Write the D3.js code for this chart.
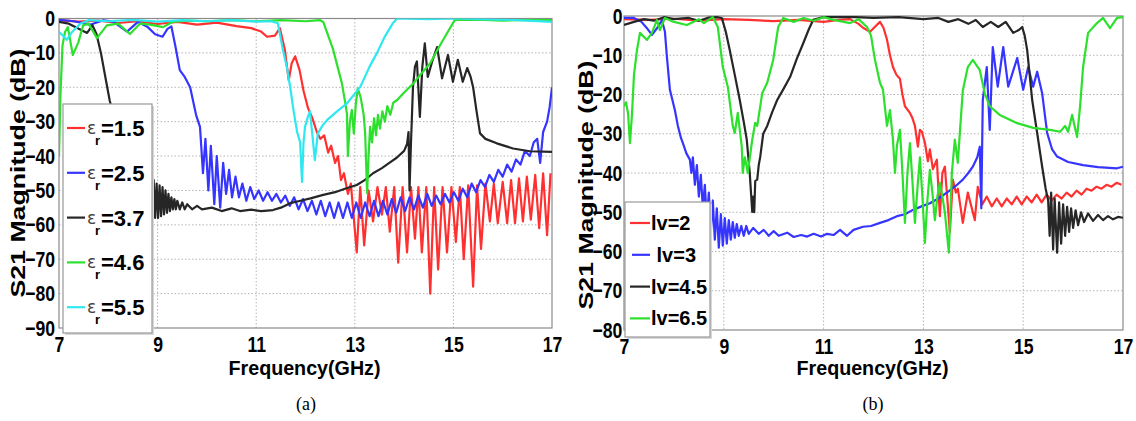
<!DOCTYPE html>
<html>
<head>
<meta charset="utf-8">
<script src="https://cdn.jsdelivr.net/npm/d3@7"></script>
<style>
body { margin: 0; background: #fff; }
svg { display: block; font-family: "Liberation Sans", Arial, sans-serif; }
</style>
</head>
<body>
<svg id="chart" width="1136" height="421"></svg>
<script>
// ---- data (frequency in GHz, S21 in dB) ----
const freqTicks = [7, 9, 11, 13, 15, 17];
const dbTicksA = [0, -10, -20, -30, -40, -50, -60, -70, -80, -90];
const dbTicksB = [0, -10, -20, -30, -40, -50, -60, -70, -80];

const erLabels = ["1.5", "2.5", "3.7", "4.6", "5.5"];
const lvLabels = ["lv=2", " lv=3", "lv=4.5", "lv=6.5"];

// (a) permittivity sweep
const er15 = [[7.0,-0.5],[7.4,-0.9],[7.8,-0.6],[8.2,-1.3],[8.6,-0.8],[9.0,-1.6],[9.4,-1.0],[9.8,-1.8],[10.2,-1.2],[10.6,-2.2],[10.9,-2.8],[11.1,-3.8],[11.22,-5.3],[11.38,-5.0],[11.48,-2.8],[11.58,-9],[11.66,-18],[11.72,-13],[11.79,-11],[11.88,-15],[11.96,-21],[12.05,-26],[12.14,-29],[12.23,-33],[12.3,-35],[12.38,-34],[12.46,-39],[12.52,-37],[12.6,-42],[12.66,-40],[12.72,-47],[12.78,-45],[12.86,-51],[12.92,-48],
  [13.04,-68],[13.11,-49],[13.19,-66],[13.28,-50],[13.37,-59],[13.46,-49],[13.55,-57],[13.63,-49],[13.71,-62],[13.8,-49],[13.88,-71],[13.97,-49],[14.06,-68],[14.14,-49],[14.22,-64],[14.29,-49],[14.36,-68],[14.45,-49],[14.53,-80],[14.61,-49],[14.69,-73],[14.78,-49],[14.87,-68],[14.96,-49],[15.05,-65],[15.13,-49],[15.21,-70],[15.3,-48.5],[15.4,-78],[15.48,-48.5],[15.56,-67],[15.65,-48],[15.74,-59],[15.82,-48],[15.9,-59.5],[16.0,-47.5],[16.09,-59.5],[16.17,-47],[16.25,-59.5],[16.33,-46.5],[16.41,-59],[16.49,-46],[16.57,-58.5],[16.66,-45.5],[16.74,-61],[16.82,-45],[16.9,-63],[16.97,-45]];

const er25 = [[7.0,-0.4],[7.3,-0.8],[7.63,-1.8],[7.9,-0.5],[8.1,-0.9],[8.38,-3.8],[8.6,-1.0],[8.8,-2.5],[8.95,-4.6],[9.1,-5.3],[9.2,-3.0],[9.28,-2.3],[9.36,-8],[9.45,-15],[9.55,-17],[9.66,-20],[9.72,-24],[9.78,-28],[9.86,-31.5],[9.92,-45],[9.97,-35],[10.03,-50],[10.08,-37],[10.15,-54],[10.2,-40],[10.27,-55],[10.33,-42],[10.39,-51],[10.45,-44],[10.51,-52],[10.58,-46],[10.65,-52],[10.72,-48],[10.8,-53],[10.88,-49],[10.96,-52.5],[11.05,-50],[11.14,-53],[11.23,-50.5],[11.32,-53],[11.41,-51],[11.5,-53.5],[11.59,-51.5],[11.68,-54.5],[11.77,-52],[11.86,-55.5],[11.95,-52.5],[12.04,-56],[12.13,-53],[12.22,-57],[12.31,-53],[12.4,-57.5],[12.49,-53.5],[12.58,-58],[12.67,-53.5],[12.76,-58],[12.85,-53.5],[12.94,-58],[13.03,-53.5],[13.12,-58],[13.21,-53.5],[13.3,-57.5],[13.39,-53],[13.48,-57.5],[13.57,-53],[13.66,-57],[13.75,-52.5],[13.84,-56.5],[13.93,-52],[14.02,-56],[14.11,-52],[14.2,-55.5],[14.29,-51.5],[14.38,-55],[14.47,-51],[14.56,-54.5],
  [14.65,-51.5],[14.74,-54],[14.83,-51],[14.92,-53.5],[15.01,-50.5],[15.1,-53],[15.19,-49.5],[15.28,-52],[15.37,-48],[15.46,-50.5],[15.55,-47],[15.64,-49],[15.73,-45.5],[15.82,-47.5],[15.91,-44],[16.0,-46],[16.09,-42.5],[16.18,-44.5],[16.27,-41],[16.36,-42.5],[16.45,-38.5],[16.55,-40],[16.63,-36],[16.7,-35],[16.76,-42],[16.82,-33],[16.9,-30],[16.95,-26],[17.0,-20]];

const er37 = [[7.0,-1.0],[7.2,-1.5],[7.4,-3.0],[7.57,-4.2],[7.68,-2.0],[7.76,-4.5],[7.85,-10],[7.94,-17],[8.03,-24],[8.15,-30],[8.3,-36],[8.45,-41],[8.6,-45],[8.75,-48],[8.88,-50],
  [8.92,-47],[8.95,-58],[8.98,-48],[9.01,-58],[9.04,-48.5],[9.07,-57.5],[9.1,-49],[9.13,-57],[9.16,-50],[9.19,-56.5],[9.22,-51],[9.25,-56],[9.28,-52],[9.31,-55.5],[9.34,-52.5],[9.37,-55.5],[9.4,-53],[9.45,-55.5],[9.5,-53.5],[9.55,-55.5],[9.6,-54],[9.7,-55.5],[9.8,-54.5],[9.9,-55.5],
  [10.1,-55],[10.3,-56],[10.5,-55.2],[10.67,-56],[10.9,-55.6],[11.1,-56],[11.34,-55.7],[11.5,-55],[11.69,-53.7],[11.9,-53],[12.1,-52.3],[12.36,-51.3],[12.6,-50.5],[12.8,-49.5],[13.04,-48.4],[13.2,-47],[13.37,-45],[13.55,-43.5],[13.7,-42],[13.85,-40.5],[14.0,-38.5],[14.06,-36.5],[14.09,-33],[14.11,-50],[14.14,-36],[14.18,-20],[14.22,-14],[14.26,-12.5],[14.32,-28.6],[14.37,-14],[14.42,-7.2],[14.48,-17],[14.58,-12],[14.67,-8.3],[14.77,-17.4],[14.89,-10.6],[14.99,-18.4],[15.09,-12],[15.19,-18.4],[15.28,-14.4],[15.35,-17],[15.4,-20],[15.47,-27],[15.54,-33.4],[15.65,-35],[15.88,-36.3],[16.21,-37.8],[16.55,-38.6],[17.0,-38.8]];

const er46 = [[7.0,-40],[7.03,-22],[7.07,-8],[7.12,-4],[7.18,-2.5],[7.28,-10.6],[7.39,-7],[7.49,-2],[7.6,-1.5],[7.77,-5.7],[7.97,-2],[8.2,-1.5],[8.44,-4.5],[8.64,-1.5],[8.85,-1.8],[9.11,-2.5],[9.3,-1],[9.6,-0.6],[10.0,-0.8],[10.5,-0.5],[11.0,-0.8],[11.5,-0.5],[12.0,-0.8],[12.3,-0.5],[12.36,-1],[12.46,-5],[12.56,-9],[12.65,-14],[12.74,-19],[12.8,-24],[12.84,-27.6],[12.86,-40],[12.9,-30],[12.94,-26.6],[12.98,-33.5],[13.02,-25],[13.06,-20.3],[13.12,-23],[13.18,-28],[13.21,-33.4],[13.25,-50.8],[13.28,-40],[13.31,-31.5],[13.35,-36],[13.39,-29],[13.43,-34],[13.47,-28],[13.51,-32],[13.56,-27],[13.61,-30],[13.66,-25.5],[13.72,-28],[13.78,-24.5],[13.86,-23.7],[14.0,-21.5],[14.18,-19],[14.35,-16],[14.53,-13],[14.7,-8.5],[14.87,-4.3],[15.03,-0.4],[15.5,-0.3],[16.0,-0.6],[16.5,-0.4],[17.0,-0.5]];

const er55 = [[7.0,-3.9],[7.08,-5],[7.16,-6.2],[7.26,-4],[7.43,-1.5],[7.6,-0.5],[8.0,-0.8],[8.5,-0.4],[9.0,-0.9],[9.5,-0.5],[10.0,-0.8],[10.5,-0.5],[11.0,-0.9],[11.3,-0.8],[11.44,-1.4],[11.54,-9],[11.62,-14],[11.69,-20],[11.76,-27],[11.83,-33],[11.89,-36],[11.93,-47.5],[11.96,-36],[11.99,-31.5],[12.04,-29],[12.09,-27],[12.14,-34],[12.19,-41.2],[12.25,-33.4],[12.35,-31],[12.44,-29.5],[12.64,-27],[12.84,-24.7],[13.11,-19.9],[13.3,-14],[13.45,-10],[13.6,-5.5],[13.77,-1.4],[13.86,0],[14.5,-0.2],[15.0,0],[15.5,-0.2],[16.0,-0.3],[16.5,-0.6],[17.0,-1.0]];

// (b) lv sweep
const lv2 = [[7.0,-0.8],[7.5,-1.0],[8.0,-0.7],[8.5,-1.2],[9.0,-0.8],[9.5,-1.0],[10.0,-1.3],[10.5,-1.0],[11.0,-1.5],[11.3,-1.0],[11.53,-0.8],[11.7,-2],[11.79,-3],[11.93,-4],[12.05,-2.5],[12.13,-1.5],[12.2,-3],[12.27,-6],[12.33,-10],[12.39,-13],[12.46,-15],[12.53,-16],[12.58,-20],[12.63,-23],[12.73,-24.7],[12.78,-26],[12.83,-28],[12.89,-33.3],[12.93,-29],[12.97,-29.5],[13.03,-32.3],[13.09,-37],[13.13,-34],[13.19,-39],[13.27,-36.6],[13.33,-51],[13.38,-40],[13.43,-38.4],[13.53,-55],[13.59,-41.7],[13.65,-45],[13.69,-44],[13.79,-52.7],[13.89,-45],[14.03,-52],[14.09,-43.5],[14.18,-48],[14.27,-46],[14.37,-48.5],[14.47,-46.5],[14.57,-48.5],[14.67,-46.5],[14.77,-48],[14.87,-46],[14.97,-48],[15.07,-46],[15.17,-47.5],[15.27,-45.5],[15.37,-47.5],[15.47,-45.5],[15.57,-47],[15.67,-45.5],[15.77,-46.5],[15.87,-45],[15.97,-46],[16.07,-44.5],[16.17,-45.5],[16.27,-44],[16.37,-44.5],[16.47,-43.5],[16.57,-44],[16.67,-43],[16.77,-43.5],[16.87,-42.5],[16.97,-43]];

const lv3 = [[7.0,-0.5],[7.2,-0.5],[7.35,-1.5],[7.46,-3.1],[7.56,-4.8],[7.68,-2.8],[7.76,-1],[7.82,-4],[7.86,-10.4],[7.92,-18.8],[8.02,-24],[8.08,-28],[8.14,-31],[8.18,-32.4],[8.25,-35],[8.32,-36.6],
  [8.35,-40],[8.38,-36],[8.42,-43],[8.46,-38],[8.5,-46],[8.54,-40.5],[8.58,-49],[8.62,-43],[8.66,-52],[8.7,-45],[8.74,-55],[8.78,-47],[8.82,-57],[8.86,-49],[8.9,-59],[8.94,-50.5],[8.98,-58.5],[9.02,-51.5],[9.06,-58],[9.1,-52],[9.14,-57],[9.18,-52.5],[9.22,-56.5],[9.26,-53],[9.3,-56],[9.35,-53.5],[9.4,-56],[9.45,-53.5],[9.5,-55.5],[9.59,-54],[9.7,-55.5],[9.8,-54.5],[9.9,-56],[10.0,-54.8],[10.1,-56],[10.27,-55.2],[10.4,-56.3],[10.55,-55.8],[10.67,-56.2],[10.8,-55.5],[10.95,-56.2],[11.07,-55.5],[11.2,-55.8],[11.33,-54.5],[11.47,-56],[11.6,-54.5],[11.79,-53.7],[11.95,-53.5],[12.13,-52.7],[12.3,-52],[12.47,-51],[12.63,-50.5],[12.79,-49.4],[12.96,-48.5],[13.13,-47.7],[13.3,-46.5],[13.47,-45],[13.63,-43.5],[13.79,-41.7],[13.9,-40],[13.99,-38.4],[14.08,-36],[14.13,-33.3],[14.16,-49],[14.19,-21.4],[14.27,-13],[14.33,-29],[14.39,-7.9],[14.49,-18],[14.6,-7.9],[14.7,-18],[14.88,-10.7],[15.0,-18.8],[15.1,-13],[15.2,-18],[15.28,-14.2],[15.38,-19.7],[15.48,-29.8],[15.58,-34],[15.68,-35.8],[15.9,-37.2],[16.2,-38],[16.5,-38.5],[16.88,-38.8],[17.0,-38.4]];

const lv45 = [[7.0,-2.3],[7.2,-1.5],[7.4,-0.8],[7.6,-1.2],[7.8,-0.3],[8.0,-0.8],[8.3,-0.5],[8.5,-1.2],[8.7,-0.4],[8.86,-0.3],[8.96,-0.5],[9.04,-4],[9.12,-8.7],[9.22,-15],[9.32,-21.4],[9.4,-27],[9.46,-31.5],[9.52,-40],[9.54,-44],[9.57,-49.9],[9.59,-46],[9.61,-50],[9.63,-42],[9.67,-41.7],[9.7,-38],[9.73,-35.9],[9.79,-30],[9.87,-28],[9.97,-24.5],[10.07,-21.4],[10.2,-18.5],[10.33,-15.5],[10.46,-11],[10.59,-7],[10.7,-3.5],[10.79,-1],[11.0,-0.3],[11.5,-0.2],[12.0,-0.5],[12.5,-0.3],[13.0,-0.8],[13.3,-0.5],[13.5,-1.5],[13.7,-0.8],[13.9,-2],[14.05,-1],[14.19,-2.8],[14.35,-1.5],[14.5,-2.8],[14.65,-1.5],[14.8,-4.3],[14.92,-3.5],[14.98,-2.8],[15.03,-5],[15.08,-8.7],[15.18,-21.4],[15.28,-29.8],[15.38,-38.4],[15.45,-44],[15.5,-47],[15.53,-56],[15.56,-45],[15.6,-59.5],[15.63,-46.5],[15.68,-60.3],[15.72,-47.5],[15.76,-58],[15.8,-48],[15.84,-56],[15.88,-48.6],[15.92,-55],[15.96,-49],[16.0,-54],[16.05,-49.5],[16.1,-53.3],[16.16,-50],[16.22,-52.5],[16.3,-50.3],[16.4,-52.2],[16.5,-50.7],[16.6,-52],[16.7,-51],[16.8,-51.8],[16.9,-51.2],[17.0,-51.4]];

const lv65 = [[7.0,-23],[7.04,-22],[7.08,-24.7],[7.12,-32.4],[7.16,-25],[7.2,-15],[7.26,-8.7],[7.32,-4.3],[7.46,-6.1],[7.56,-4.3],[7.66,-1],[7.72,-3.6],[7.82,-0.5],[8.0,-1.5],[8.26,-2.3],[8.5,-0.8],[8.6,-1.8],[8.78,-0.3],[8.88,-2.8],[8.98,-13],[9.08,-18],[9.18,-28],[9.22,-29.8],[9.28,-24.7],[9.36,-33.3],[9.38,-40],[9.42,-36],[9.46,-38.4],[9.48,-40],[9.57,-31.5],[9.63,-27.2],[9.67,-28],[9.77,-19.7],[9.87,-17],[9.99,-11.2],[10.09,-2.8],[10.19,-0.5],[10.4,-1.5],[10.6,-0.5],[10.8,-1.2],[11.0,-0.3],[11.2,-1.0],[11.53,-1.8],[11.7,-0.8],[11.87,-2.8],[11.95,-5],[12.03,-11.2],[12.13,-17],[12.19,-18.8],[12.27,-28],[12.33,-24],[12.39,-31.5],[12.43,-40],[12.47,-33],[12.53,-29],[12.58,-40],[12.63,-52.7],[12.68,-40],[12.73,-32.4],[12.78,-42],[12.83,-52.7],[12.88,-44],[12.93,-36],[12.98,-46],[13.03,-57.8],[13.08,-47],[13.13,-39.2],[13.18,-45],[13.23,-52],[13.28,-46],[13.33,-42.5],[13.38,-46],[13.43,-50],[13.51,-60.3],[13.57,-40],[13.63,-31.5],[13.69,-37.4],[13.74,-28],[13.79,-19],[13.89,-13],[13.99,-11.2],[14.13,-13.8],[14.23,-19.7],[14.33,-23],[14.53,-25.2],[14.88,-27.3],[15.2,-28.5],[15.54,-29],[15.74,-29.5],[15.84,-28],[15.9,-29.5],[15.98,-25.2],[16.08,-30.8],[16.14,-23],[16.2,-13],[16.3,-4.3],[16.48,-1.8],[16.6,-0.5],[16.74,-3.1],[16.88,-0.5],[17.0,-0.3]];

const colorsA = ["#ff3030", "#3535ff", "#262626", "#2ee02e", "#2ee8f0"];
const colorsB = ["#ff3030", "#3535ff", "#262626", "#2ee02e"];

const svg = d3.select("#chart");

function drawPanel(p) {
	const x = d3.scaleLinear().domain([7, 17]).range([p.left, p.right]);
	const y = d3.scaleLinear().domain([p.yTicks[p.yTicks.length - 1], 0]).range([p.bottom, p.top]);
	const g = svg.append("g");

	g.append("clipPath")
		.attr("id", "clip-" + p.name)
		.append("rect")
		.attr("x", p.left)
		.attr("y", p.top)
		.attr("width", p.right - p.left)
		.attr("height", p.bottom - p.top);

	// dotted grid
	g.append("g")
		.selectAll("line")
		.data(p.yTicks.slice(1, -1))
		.join("line")
		.attr("x1", p.left)
		.attr("x2", p.right)
		.attr("y1", d => y(d))
		.attr("y2", d => y(d))
		.attr("stroke", "#b4b4b4")
		.attr("stroke-dasharray", "1.5,2");

	g.append("g")
		.selectAll("line")
		.data(freqTicks.slice(1, -1))
		.join("line")
		.attr("x1", d => x(d))
		.attr("x2", d => x(d))
		.attr("y1", p.top)
		.attr("y2", p.bottom)
		.attr("stroke", "#b4b4b4")
		.attr("stroke-dasharray", "1.5,2");

	// box
	g.append("rect")
		.attr("x", p.left)
		.attr("y", p.top)
		.attr("width", p.right - p.left)
		.attr("height", p.bottom - p.top)
		.attr("fill", "none")
		.attr("stroke", "#8a8a8a")
		.attr("stroke-width", 1.2);

	// curves
	const line = d3.line().x(d => x(d[0])).y(d => y(d[1]));
	g.append("g")
		.attr("clip-path", `url(#clip-${p.name})`)
		.selectAll("path")
		.data(p.series)
		.join("path")
		.attr("d", line)
		.attr("fill", "none")
		.attr("stroke", (d, i) => p.colors[i])
		.attr("stroke-width", 2.2)
		.attr("stroke-linejoin", "round");

	// axes
	const yAxis = g.append("g")
		.attr("transform", `translate(${p.left},0)`)
		.call(d3.axisLeft(y).tickValues(p.yTicks).tickSize(0).tickPadding(p.yPad));
	yAxis.select(".domain").remove();
	yAxis.attr("font-family", "Liberation Sans, Arial, sans-serif").attr("font-size", 22);
	yAxis.selectAll("text").attr("font-weight", "bold").attr("transform", "scale(0.8,1)");

	const xAxis = g.append("g")
		.attr("transform", `translate(0,${p.bottom})`)
		.call(d3.axisBottom(x).tickValues(freqTicks).tickSize(0).tickPadding(p.xPad));
	xAxis.select(".domain").remove();
	xAxis.attr("font-family", "Liberation Sans, Arial, sans-serif").attr("font-size", 22);
	xAxis.selectAll("text").attr("font-weight", "bold").attr("transform", "scale(0.8,1)");

	// labels
	g.append("text")
		.attr("x", (p.left + p.right) / 2 - 1)
		.attr("y", 375)
		.attr("text-anchor", "middle")
		.attr("font-weight", "bold")
		.attr("font-size", 20)
		.attr("textLength", 152)
		.attr("lengthAdjust", "spacingAndGlyphs")
		.text("Frequency(GHz)");

	g.append("text")
		.attr("transform", `translate(${p.yLabelX},${p.yLabelY}) rotate(-90)`)
		.attr("text-anchor", "middle")
		.attr("dy", "0.35em")
		.attr("font-weight", "bold")
		.attr("font-size", 20)
		.attr("textLength", 249)
		.attr("lengthAdjust", "spacingAndGlyphs")
		.text("S21 Magnitude (dB)");

	g.append("text")
		.attr("x", p.captionX)
		.attr("y", 410)
		.attr("text-anchor", "middle")
		.attr("font-family", "Liberation Serif, Times New Roman, serif")
		.attr("font-size", 18)
		.text(p.caption);

	return g;
}

function drawLegendBox(g, box) {
	g.append("rect")
		.attr("x", box.x + 2)
		.attr("y", box.y + 2)
		.attr("width", box.w)
		.attr("height", box.h)
		.attr("fill", "#d8d8d8");
	g.append("rect")
		.attr("x", box.x)
		.attr("y", box.y)
		.attr("width", box.w)
		.attr("height", box.h)
		.attr("fill", "#fff")
		.attr("stroke", "#999")
		.attr("stroke-width", 1.2);
}

// ---- panel (a) ----
const gA = drawPanel({
	name: "a", left: 59, right: 552, top: 18.5, bottom: 328,
	yTicks: dbTicksA, yPad: 5, xPad: 8,
	series: [er15, er25, er37, er46, er55], colors: colorsA,
	yLabelX: 17.5, yLabelY: 173, captionX: 306, caption: "(a)"
});

drawLegendBox(gA, { x: 63, y: 104, w: 89, h: 229 });
erLabels.forEach((lab, i) => {
	const ly = 128 + i * 44.8;
	gA.append("line")
		.attr("x1", 67).attr("x2", 85)
		.attr("y1", ly).attr("y2", ly)
		.attr("stroke", colorsA[i])
		.attr("stroke-width", 2.2);
	gA.append("text")
		.attr("x", 87)
		.attr("y", ly + 6)
		.attr("font-family", "DejaVu Sans, sans-serif")
		.attr("font-size", 17)
		.attr("fill", "#444")
		.text("ε");
	gA.append("text")
		.attr("x", 95)
		.attr("y", ly + 17)
		.attr("font-size", 13)
		.attr("font-weight", "bold")
		.text("r");
	gA.append("text")
		.attr("x", 101)
		.attr("y", ly + 8)
		.attr("font-size", 22)
		.attr("font-weight", "bold")
		.text("=" + lab);
});

// ---- panel (b) ----
const gB = drawPanel({
	name: "b", left: 624, right: 1123, top: 16, bottom: 330,
	yTicks: dbTicksB, yPad: 2, xPad: 8,
	series: [lv2, lv3, lv45, lv65], colors: colorsB,
	yLabelX: 586, yLabelY: 185, captionX: 873, caption: "(b)"
});

drawLegendBox(gB, { x: 625, y: 202, w: 85, h: 135 });
lvLabels.forEach((lab, i) => {
	const ly = 223 + i * 31.8;
	gB.append("line")
		.attr("x1", lab.startsWith(" ") ? 632 : 630).attr("x2", 650)
		.attr("y1", ly).attr("y2", ly)
		.attr("stroke", colorsB[i])
		.attr("stroke-width", 2.2);
	gB.append("text")
		.attr("x", 651)
		.attr("y", ly + 7)
		.attr("font-size", 20)
		.attr("font-weight", "bold")
		.style("white-space", "pre")
		.text(lab);
});
</script>
</body>
</html>
